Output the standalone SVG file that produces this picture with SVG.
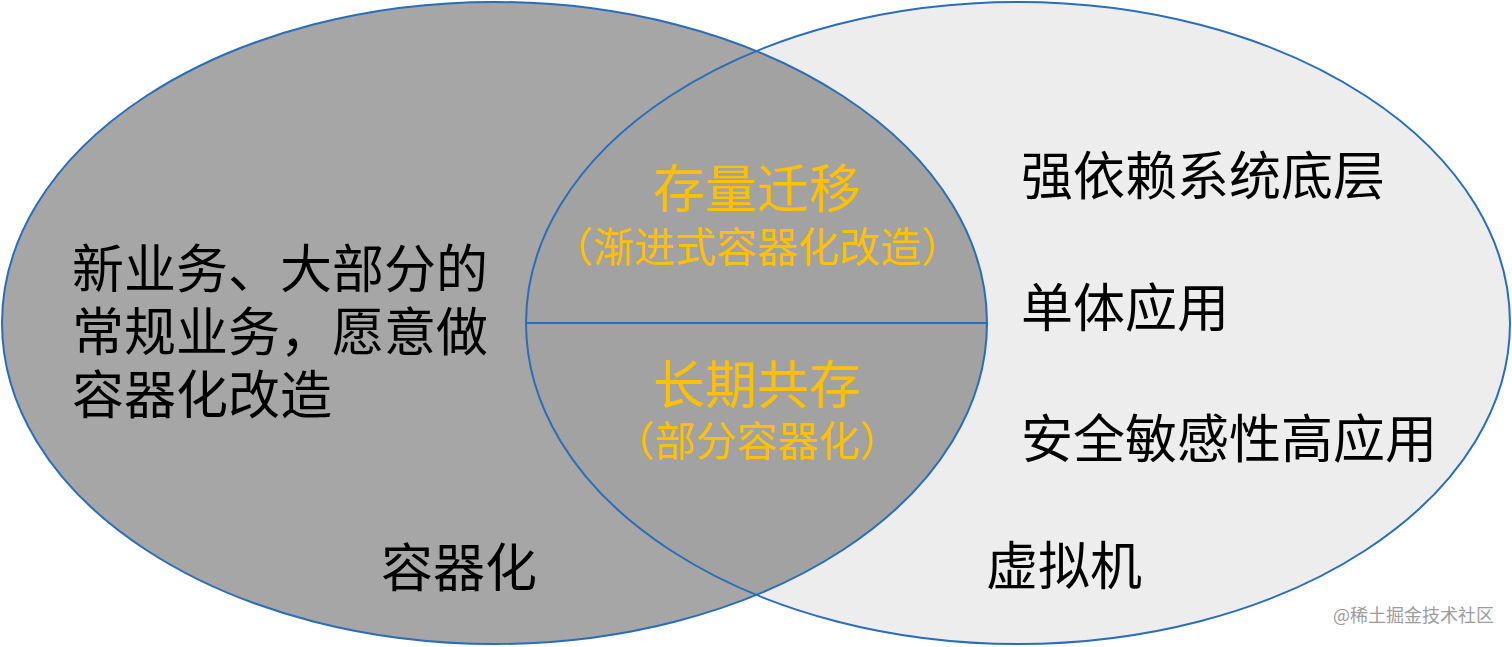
<svg xmlns="http://www.w3.org/2000/svg" width="1512" height="647" viewBox="0 0 1512 647">
<style>
.t{font-family:"Noto Sans CJK SC","Noto Sans",sans-serif;fill:#000;font-size:52px}
.o{font-family:"Noto Sans CJK SC","Noto Sans",sans-serif;fill:#ffc000;text-anchor:middle}
.edge{fill:none;stroke:#2a6db8;stroke-width:2}
</style>
<defs>
<clipPath id="clipL"><ellipse cx="494.5" cy="323" rx="492.5" ry="321"/></clipPath>
</defs>
<rect width="1512" height="647" fill="#fff"/>
<g id="container">
<ellipse cx="494.5" cy="323" rx="492.5" ry="321" fill="#a6a6a6"/>
</g>
<g id="vm">
<ellipse cx="1018" cy="323" rx="492" ry="321" fill="#ededed"/>
</g>
<g id="overlap">
<ellipse cx="1018" cy="323" rx="492" ry="321" fill="#a2a2a2" clip-path="url(#clipL)"/>
</g>
<g id="connectors">
<ellipse class="edge" cx="494.5" cy="323" rx="492.5" ry="321"/>
<ellipse class="edge" cx="1018" cy="323" rx="492" ry="321"/>
<line class="edge" x1="526" y1="323" x2="988" y2="323"/>
</g>
<g id="left-text">
<text class="t" x="72" y="288">新业务、大部分的</text>
<text class="t" x="72" y="351">常规业务，愿意做</text>
<text class="t" x="72" y="414">容器化改造</text>
<text class="t" x="381" y="587">容器化</text>
</g>
<g id="migration">
<text class="o" x="757" y="208" font-size="52">存量迁移</text>
<text class="o" x="757" y="262" font-size="41">（渐进式容器化改造）</text>
</g>
<g id="coexist">
<text class="o" x="757" y="404" font-size="52">长期共存</text>
<text class="o" x="757" y="456" font-size="41">（部分容器化）</text>
</g>
<g id="right-text">
<text class="t" x="1021" y="195">强依赖系统底层</text>
<text class="t" x="1021" y="327">单体应用</text>
<text class="t" x="1021" y="458">安全敏感性高应用</text>
<text class="t" x="986" y="585">虚拟机</text>
</g>
<text x="1494" y="622" text-anchor="end" font-family="Noto Sans CJK SC, sans-serif" font-size="18" fill="#9c9c9c">@稀土掘金技术社区</text>
</svg>
